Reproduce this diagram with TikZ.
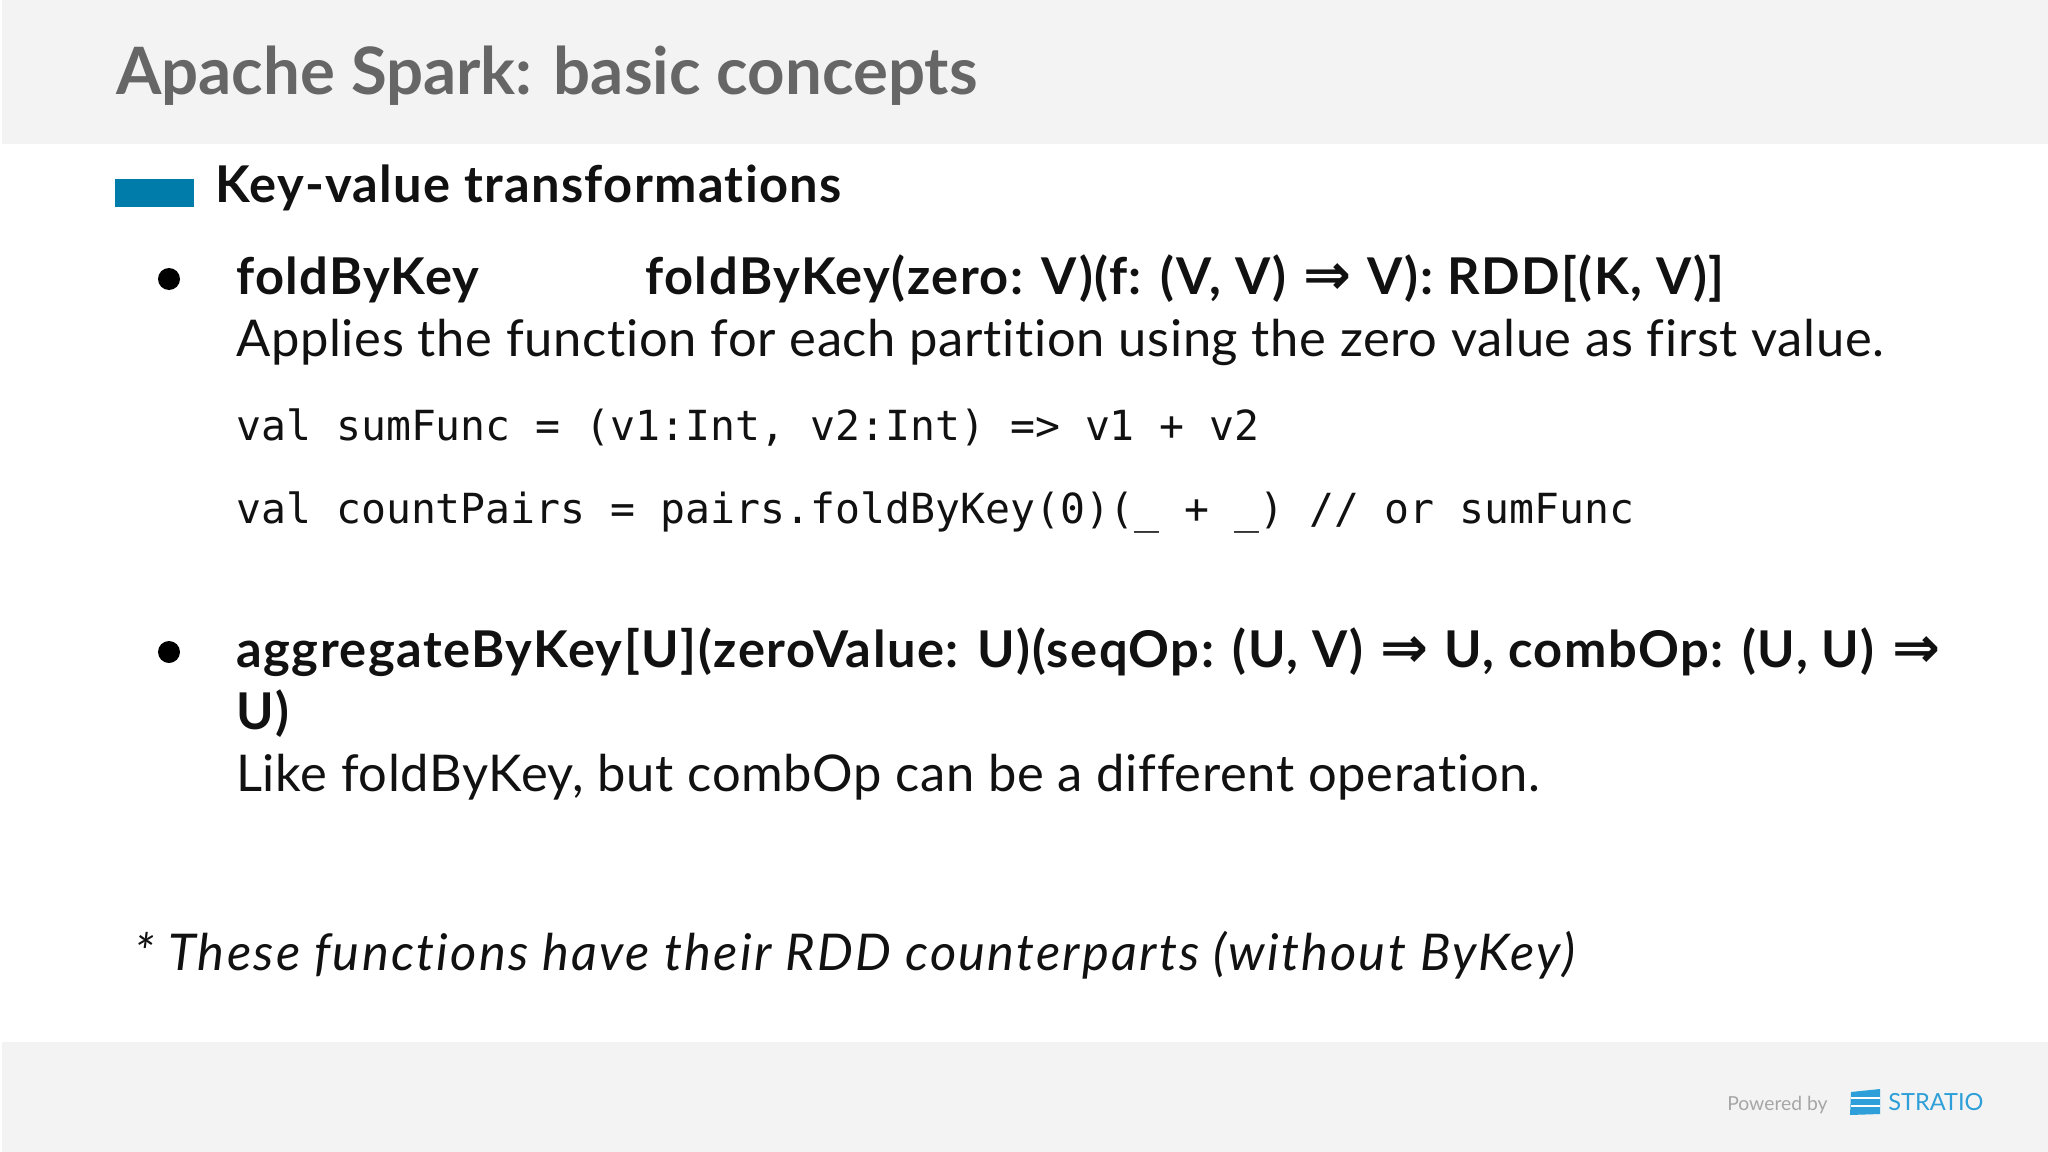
\documentclass[tikz,border=0pt]{standalone}
\usepackage{fontspec}
\setmainfont{Lato}
\setmonofont{DejaVu Sans Mono}
\newfontfamily\arrowfont{DejaVu Sans Bold}
\newfontfamily\bodyf[LetterSpace=1.35,Ligatures=NoCommon]{Lato}
\newfontfamily\headf[LetterSpace=2.6,Ligatures=NoCommon,UprightFont=*-Bold]{Lato}
\newfontfamily\sigf[LetterSpace=3.0,Ligatures=NoCommon,UprightFont=*-Bold]{Lato}
\newfontfamily\titlef[Ligatures=NoCommon,UprightFont=*-Bold]{Lato}
\newfontfamily\notef[LetterSpace=4.45,Ligatures=NoCommon,UprightFont=*-Italic]{Lato}
\newcommand{\dbl}{\hspace{3pt}{\arrowfont\fontsize{43pt}{43pt}\selectfont⇒}\hspace{1.5pt}}
\definecolor{band}{HTML}{F3F3F3}
\definecolor{titlegrey}{HTML}{666666}
\definecolor{ink}{HTML}{111111}
\definecolor{barblue}{HTML}{007CAB}
\definecolor{stratio}{HTML}{2E9FD8}
\tikzset{
  txt/.style={inner sep=0pt,anchor=base west,text=ink},
  body/.style={txt,font=\fontsize{38pt}{38pt}\bodyf},
  head/.style={txt,font=\fontsize{38pt}{38pt}\headf},
  sigline/.style={txt,font=\fontsize{38pt}{38pt}\sigf},
  notetext/.style={txt,font=\fontsize{38pt}{38pt}\notef},
  code/.style={txt,font=\fontsize{31.1pt}{31.1pt}\ttfamily},
}
\begin{document}
\begin{tikzpicture}[x=0.75pt,y=-0.75pt]
\useasboundingbox (0,0) rectangle (2048,1152);
\fill[white] (0,0) rectangle (2048,1152);
\fill[band] (2,0) rectangle (2048,144);
\fill[band] (2,1042) rectangle (2048,1152);
\node[txt,text=titlegrey,font=\fontsize{49pt}{49pt}\titlef] (title) at (116,95) {Apache Spark: basic concepts};
\fill[barblue] (115,179) rectangle (194,207);
\node[head] (sub) at (215,203) {Key-value transformations};
\fill[black] (169,279) circle (11);
\node[head] (a1) at (236,294) {foldByKey};
\node[sigline] (a2) at (645,294) {foldByKey(zero: V)(f: (V, V) \dbl{} V): RDD[(K, V)]};
\node[body] (a3) at (236,356) {Applies the function for each partition using the zero value as first value.};
\node[code] (c1) at (236,440) {val sumFunc = (v1:Int, v2:Int) => v1 + v2};
\node[code] (c2) at (236,523) {val countPairs = pairs.foldByKey(0)(\_ + \_) // or sumFunc};
\fill[black] (169,652) circle (11);
\node[sigline] (b1) at (236,667) {aggregateByKey[U](zeroValue: U)(seqOp: (U, V) \dbl{} U, combOp: (U, U) \dbl};
\node[head] (b2) at (236,729) {U)};
\node[body] (b3) at (236,791) {Like foldByKey, but combOp can be a different operation.};
\node[notetext] (note) at (134,970) {* These functions have their RDD counterparts (without ByKey)};
\node[txt,text=black!35,font=\fontsize{14.5pt}{14.5pt}\selectfont] (pow) at (1727,1110) {Powered by};
\node[txt,text=stratio,font=\fontsize{17.7pt}{17.7pt}\selectfont] (st) at (1888,1110) {STRATIO};
\fill[stratio] (1851,1092) -- (1880,1089) -- (1880,1114) -- (1850,1115) -- cycle;
\draw[white,line width=1pt] (1851,1098) -- (1880,1098) (1851,1106) -- (1880,1106);
\end{tikzpicture}
\end{document}
